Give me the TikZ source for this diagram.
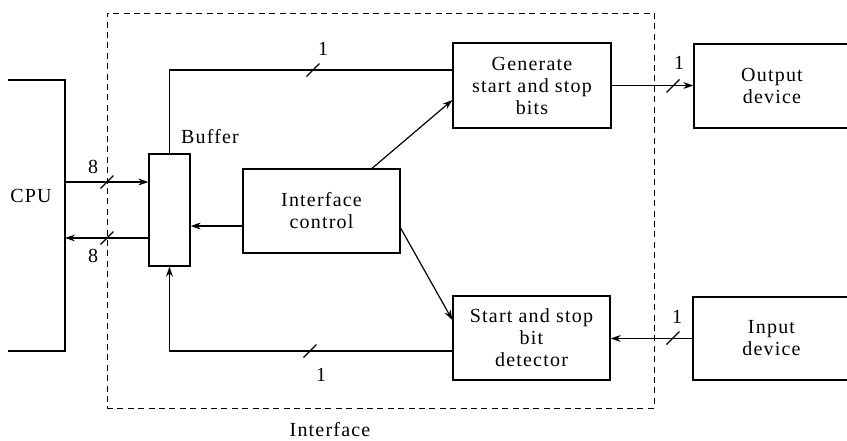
\documentclass[tikz,border=0pt]{standalone}
\usepackage{fontspec}
\setmainfont{Liberation Serif}[LetterSpace=6]
\usetikzlibrary{arrows.meta}
\begin{document}
\begin{tikzpicture}[x=0.5pt,y=-0.5pt,
  every node/.style={font=\fontsize{10}{11}\selectfont},
  blk/.style={draw, line width=0.6pt, inner sep=0pt, align=center},
  conn/.style={line width=0.6pt},
  arr/.style={conn, -{Stealth[length=5pt,width=3.4pt]}},
  bound/.style={draw, dash pattern=on 3pt off 2.2pt, line width=0.5pt, inner sep=0pt},
  slashmark/.style={line width=0.6pt}
]
\clip (0,0) rectangle (847,440);

% blocks
\node[blk, minimum width=20.5pt, minimum height=56pt] (buf) at (169.5,210) {};
\node[blk, minimum width=78.5pt, minimum height=42pt] (ic) at (321.5,211) {Interface\\control};
\node[blk, minimum width=79pt, minimum height=42.5pt] (gen) at (532,85.5) {Generate\\start and stop\\bits};
\node[blk, minimum width=78.5pt, minimum height=42pt] (det) at (531.5,338) {Start and stop\\bit\\detector};
\node[blk, minimum width=78pt, minimum height=42pt] (out) at (772,86) {Output\\device};
\node[blk, minimum width=78.5pt, minimum height=41.5pt] (in) at (771.5,338.5) {Input\\device};

% interface boundary
\node[bound, minimum width=273.5pt, minimum height=197.5pt] (ifc) at (380.5,210.5) {};
\node (ifclabel) at (330,430) {Interface};
\node (buflabel) at (210,137) {Buffer};

% CPU
\node (cpu) at (31,196) {CPU};
\draw[conn] (8,80) -- (65,80) -- (65,351) -- (8,351);
\coordinate (cpuin) at (65,182);
\coordinate (cpuout) at (65,238);

% connectors
\draw[arr] (cpuin) -- (buf.west |- cpuin);
\draw[arr] (buf.west |- cpuout) -- (cpuout);
\coordinate (topy) at (0,70);
\draw[conn] (buf.north) -- (buf.north |- topy) -- (gen.west |- topy);
\draw[arr] ([xshift=25.25pt]ic.north) -- ([yshift=-7.25pt]gen.west);
\draw[arr] (gen.east) -- (out.west |- gen.east);
\coordinate (icw) at ([yshift=-7.5pt]ic.west);
\draw[arr] (icw) -- (buf.east |- icw);
\draw[arr] ([yshift=-8.5pt]ic.east) -- ([yshift=9pt]det.west);
\draw[arr] ([yshift=-6.5pt]det.west) -| (buf.south);
\draw[arr] (in.west) -- (det.east |- in.west);

% bus-width slashes
\coordinate (sa) at (107,182);
\coordinate (sb) at (107,238);
\coordinate (sc) at (313,70);
\coordinate (sd) at (673,86);
\coordinate (se) at (310,351);
\coordinate (sf) at (673,338);
\foreach \n in {sa,sb,sc,sd,se,sf}{
  \draw[slashmark] ([shift={(-6.5,6.5)}]\n) -- ([shift={(6.5,-6.5)}]\n);
}
\node (la) at (93,167) {8};
\node (lb) at (93,256) {8};
\node (lc) at (323,49) {1};
\node (ld) at (679,63) {1};
\node (le) at (321,375) {1};
\node (lf) at (677,317) {1};
\end{tikzpicture}
\end{document}
